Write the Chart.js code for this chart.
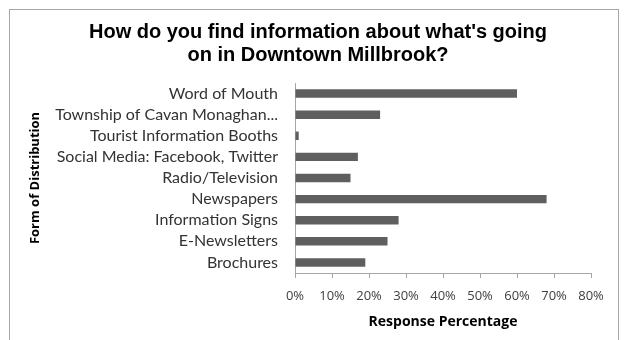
<!DOCTYPE html>
<html>
<head>
<meta charset="utf-8">
<script src="https://cdn.jsdelivr.net/npm/chart.js@4"></script>
<style>
    body { margin: 0; background: #fff; }
    #wrap { position: relative; width: 628px; height: 340px; }
    #frame {
        position: absolute; left: 9px; top: 9px; width: 610px; height: 340px;
        border: 1px solid #a6a6a6; box-sizing: border-box;
    }
    canvas { position: absolute; left: 0; top: 0; }
</style>
</head>
<body>
<div id="wrap">
    <div id="frame"></div>
    <canvas id="chart" width="628" height="340"></canvas>
</div>
<script>
// Survey data, listed top to bottom as shown
const categories = [
    'Word of Mouth',
    'Township of Cavan Monaghan...',
    'Tourist Information Booths',
    'Social Media: Facebook, Twitter',
    'Radio/Television',
    'Newspapers',
    'Information Signs',
    'E-Newsletters',
    'Brochures'
];
const responsePercent = [60, 23, 1, 17, 15, 68, 28, 25, 19];
const tickValues = [0, 10, 20, 30, 40, 50, 60, 70, 80];
const titleLines = ["How do you find information about what's going", 'on in Downtown Millbrook?'];

const labelFont = "'Lato', 'Open Sans', sans-serif";

// chart title, centred on the frame rather than the plot
const frameTitle = {
    id: 'frameTitle',
    afterDraw(chart) {
        const c = chart.ctx;
        c.save();
        c.fillStyle = '#000';
        c.font = "bold 20px 'Liberation Sans', Arial, sans-serif";
        c.textAlign = 'center';
        c.textBaseline = 'middle';
        titleLines.forEach((line, i) => c.fillText(line, 318, 32 + i * 23));
        c.restore();
    }
};

const ctx = document.getElementById('chart');
new Chart(ctx, {
    type: 'bar',
    data: {
        labels: categories,
        datasets: [{
            label: 'Response Percentage',
            data: responsePercent,
            backgroundColor: '#5f5f5f',
            borderWidth: 0,
            barPercentage: 0.8,
            categoryPercentage: 0.5
        }]
    },
    options: {
        indexAxis: 'y',
        responsive: false,
        animation: false,
        layout: { padding: { left: 27, right: 37, top: 83, bottom: 10 } },
        plugins: {
            legend: { display: false },
            tooltip: { enabled: false },
            title: { display: false }
        },
        scales: {
            x: {
                min: 0,
                max: 80,
                afterBuildTicks: (scale) => {
                    scale.ticks = tickValues.map(v => ({ value: v }));
                },
                afterFit: (scale) => { scale.height = 57; },
                grid: {
                    display: true,
                    drawOnChartArea: false,
                    drawTicks: true,
                    tickLength: 5,
                    color: '#a6a6a6'
                },
                border: { display: true, color: '#a6a6a6' },
                ticks: {
                    color: '#404040',
                    padding: 10,
                    font: { family: "'Open Sans', sans-serif", size: 13 },
                    callback: (v) => v + '%'
                },
                title: {
                    display: true,
                    text: 'Response Percentage',
                    color: '#000',
                    font: { family: "'Open Sans', sans-serif", size: 14, weight: 'bold' },
                    padding: { top: 4, bottom: 0 }
                }
            },
            y: {
                afterFit: (scale) => { scale.width = 268; },
                grid: { display: false },
                border: { display: true, color: '#a6a6a6' },
                ticks: {
                    color: '#333333',
                    padding: 9,
                    autoSkip: false,
                    font: { family: labelFont, size: 16 }
                },
                title: {
                    display: true,
                    text: 'Form of Distribution',
                    color: '#000',
                    font: { family: "'Open Sans', sans-serif", size: 13, weight: 'bold' },
                    padding: { top: 0, bottom: 0 }
                }
            }
        }
    },
    plugins: [frameTitle]
});
</script>
</body>
</html>
